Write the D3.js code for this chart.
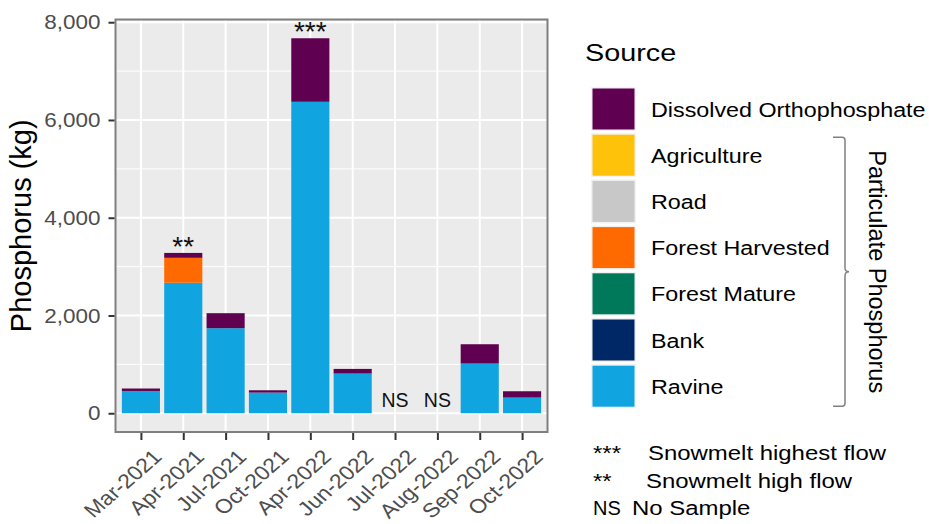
<!DOCTYPE html>
<html>
<head>
<meta charset="utf-8">
<script src="https://cdn.jsdelivr.net/npm/d3@7"></script>
<style>
  body { margin: 0; background: #fff; }
  svg { font-family: "Liberation Sans", Arial, sans-serif; }
</style>
</head>
<body>
<div id="chart-area"></div>
<script>
// Data
const months = ['Mar-2021', 'Apr-2021', 'Jul-2021', 'Oct-2021', 'Apr-2022',
    'Jun-2022', 'Jul-2022', 'Aug-2022', 'Sep-2022', 'Oct-2022'];
const sources = ['Ravine', 'Bank', 'Forest Mature', 'Forest Harvested', 'Road',
    'Agriculture', 'Dissolved Orthophosphate'];
const ravine = [456, 2670, 1740, 423, 6372, 812, 0, 0, 1017, 321];
const bank = [0, 0, 0, 0, 0, 0, 0, 0, 0, 0];
const forestMature = [0, 0, 0, 0, 0, 0, 0, 0, 0, 0];
const forestHarvested = [0, 510, 0, 0, 0, 0, 0, 0, 0, 0];
const road = [0, 0, 0, 0, 0, 0, 0, 0, 0, 0];
const agriculture = [0, 0, 0, 0, 0, 0, 0, 0, 0, 0];
const dissolved = [50, 100, 307, 47, 1300, 95, 0, 0, 395, 129];
const flags = ['', '**', '', '', '***', '', 'NS', 'NS', '', ''];
const yTicks = [0, 2000, 4000, 6000, 8000];
const sourceColors = ['#10A4E0', '#002766', '#00785A', '#FF6A00', '#C8C8C8', '#FFC20A', '#600050'];
const legendOrder = ['Dissolved Orthophosphate', 'Agriculture', 'Road', 'Forest Harvested',
    'Forest Mature', 'Bank', 'Ravine'];
const notes = [['***', 'Snowmelt highest flow'], ['**', 'Snowmelt high flow'], ['NS', 'No Sample']];

const series = [ravine, bank, forestMature, forestHarvested, road, agriculture, dissolved];
const table = months.map((m, i) => {
    const row = { month: m };
    sources.forEach((s, k) => { row[s] = series[k][i]; });
    return row;
});

// Panel
const panel = { left: 115.5, right: 547.5, top: 19.5, bottom: 432 };

const svg = d3.select('#chart-area')
    .append('svg')
    .attr('width', 929)
    .attr('height', 524);

const x = d3.scalePoint()
    .domain(months)
    .range([panel.left, panel.right])
    .padding(0.6);
const barW = x.step() * 0.9;

const totals = table.map(d => d3.sum(sources, s => d[s]));
const yMax = d3.max(totals);
const y = d3.scaleLinear()
    .domain([-yMax * 0.05, yMax * 1.05])
    .range([panel.bottom, panel.top]);

const color = d3.scaleOrdinal().domain(sources).range(sourceColors);

// Panel background
svg.append('rect')
    .attr('x', panel.left).attr('y', panel.top)
    .attr('width', panel.right - panel.left)
    .attr('height', panel.bottom - panel.top)
    .attr('fill', '#EBEBEB');

// Grid
const minor = d3.range(1000, 8000, 2000);
svg.append('g').selectAll('line')
    .data(minor).enter().append('line')
    .attr('x1', panel.left).attr('x2', panel.right)
    .attr('y1', d => y(d)).attr('y2', d => y(d))
    .attr('stroke', '#fff').attr('stroke-width', 1);
svg.append('g').selectAll('line')
    .data(yTicks).enter().append('line')
    .attr('x1', panel.left).attr('x2', panel.right)
    .attr('y1', d => y(d)).attr('y2', d => y(d))
    .attr('stroke', '#fff').attr('stroke-width', 2);
svg.append('g').selectAll('line')
    .data(months).enter().append('line')
    .attr('x1', d => x(d)).attr('x2', d => x(d))
    .attr('y1', panel.top).attr('y2', panel.bottom)
    .attr('stroke', '#fff').attr('stroke-width', 2);

// Stacked bars
const stack = d3.stack().keys(sources)(table);
svg.append('g').selectAll('g')
    .data(stack).enter().append('g')
    .attr('fill', d => color(d.key))
    .selectAll('rect')
    .data(d => d).enter().append('rect')
    .attr('x', d => x(d.data.month) - barW / 2)
    .attr('width', barW)
    .attr('y', d => y(d[1]))
    .attr('height', d => y(d[0]) - y(d[1]));

// Flags over bars
svg.append('g').selectAll('text')
    .data(table).enter().append('text')
    .attr('x', d => x(d.month))
    .attr('y', (d, i) => flags[i] === 'NS' ? y(0) - 6 : y(totals[i]) + 3)
    .attr('text-anchor', 'middle')
    .attr('font-size', (d, i) => flags[i] === 'NS' ? '19.5px' : '28px')
    .attr('fill', '#111')
    .text((d, i) => flags[i]);

// Panel border
svg.append('rect')
    .attr('x', panel.left).attr('y', panel.top)
    .attr('width', panel.right - panel.left)
    .attr('height', panel.bottom - panel.top)
    .attr('fill', 'none')
    .attr('stroke', '#7F7F7F').attr('stroke-width', 2);

// Y axis
const yAxis = svg.append('g')
    .attr('transform', 'translate(' + (panel.left - 1) + ',0)')
    .call(d3.axisLeft(y).tickValues(yTicks).tickSize(6).tickFormat(d3.format(',')));
yAxis.select('.domain').remove();
yAxis.selectAll('line').attr('stroke', '#333').attr('stroke-width', 2);
yAxis.selectAll('text')
    .attr('x', 0)
    .attr('transform', 'translate(-14,0) scale(1.07,1)')
    .attr('font-size', '21px').attr('fill', '#4D4D4D')
    .attr('font-family', '"Liberation Sans", Arial, sans-serif');

// X axis
const xAxis = svg.append('g')
    .attr('transform', 'translate(0,' + (panel.bottom + 1) + ')')
    .call(d3.axisBottom(x).tickSize(7));
xAxis.select('.domain').remove();
xAxis.selectAll('line').attr('stroke', '#333').attr('stroke-width', 2);
xAxis.selectAll('text')
    .attr('x', 0).attr('y', 0)
    .attr('font-size', '20px').attr('fill', '#4D4D4D')
    .attr('font-family', '"Liberation Sans", Arial, sans-serif')
    .attr('text-anchor', 'end')
    .attr('dy', '0.72em')
    .attr('transform', 'translate(10,15) scale(1.15,1) rotate(-45)');

// Y title
svg.append('text')
    .attr('transform', 'translate(31,' + ((panel.top + panel.bottom) / 2) + ') rotate(-90)')
    .attr('text-anchor', 'middle')
    .attr('font-size', '29px')
    .attr('fill', '#000')
    .text('Phosphorus (kg)');

// Legend
const lg = svg.append('g');
lg.append('text')
    .attr('transform', 'translate(585,61) scale(1.2,1)')
    .attr('font-size', '24px')
    .text('Source');
const keyY = d3.scaleBand().domain(legendOrder).range([87, 87 + 46.2 * 7]);
const rows = lg.selectAll('g.key').data(legendOrder).enter().append('g')
    .attr('transform', d => 'translate(591,' + keyY(d) + ')');
rows.append('rect')
    .attr('width', 45).attr('height', 44)
    .attr('fill', '#F2F2F2');
rows.append('rect')
    .attr('x', 1.5).attr('y', 1.5)
    .attr('width', 42).attr('height', 41)
    .attr('fill', d => color(d));
rows.append('text')
    .attr('transform', 'translate(60,29.5) scale(1.11,1)')
    .attr('font-size', '21px')
    .text(d => d);

// Bracket for particulate sources
const bTop = keyY('Agriculture') + 4;
const bBot = keyY('Ravine') + 42;
const bMid = (bTop + bBot) / 2;
const bx = 845;
lg.append('path')
    .attr('d', 'M' + (bx - 12) + ',' + bTop + ' L' + (bx - 3) + ',' + bTop +
        ' Q' + bx + ',' + bTop + ' ' + bx + ',' + (bTop + 3) +
        ' L' + bx + ',' + (bMid - 4) + ' Q' + bx + ',' + bMid + ' ' + (bx + 4) + ',' + bMid +
        ' Q' + bx + ',' + bMid + ' ' + bx + ',' + (bMid + 4) +
        ' L' + bx + ',' + (bBot - 3) + ' Q' + bx + ',' + bBot + ' ' + (bx - 3) + ',' + bBot +
        ' L' + (bx - 12) + ',' + bBot)
    .attr('fill', 'none')
    .attr('stroke', '#808080')
    .attr('stroke-width', 1.5);
lg.append('text')
    .attr('transform', 'translate(869,' + bMid + ') rotate(90)')
    .attr('text-anchor', 'middle')
    .attr('font-size', '23.5px')
    .text('Particulate Phosphorus');

// Footnotes
const noteX = [648, 646, 632];
const nt = lg.selectAll('g.note').data(notes).enter().append('g')
    .attr('transform', (d, i) => 'translate(0,' + [460, 488, 515][i] + ')');
nt.append('text')
    .attr('transform', (d, i) => i < 2 ? 'translate(593,0) scale(1.2,1)' : 'translate(593,0)')
    .attr('font-size', '20px')
    .text(d => d[0]);
nt.append('text')
    .attr('transform', (d, i) => 'translate(' + noteX[i] + ',0) scale(1.14,1)')
    .attr('font-size', '21px')
    .text(d => d[1]);
</script>
</body>
</html>
